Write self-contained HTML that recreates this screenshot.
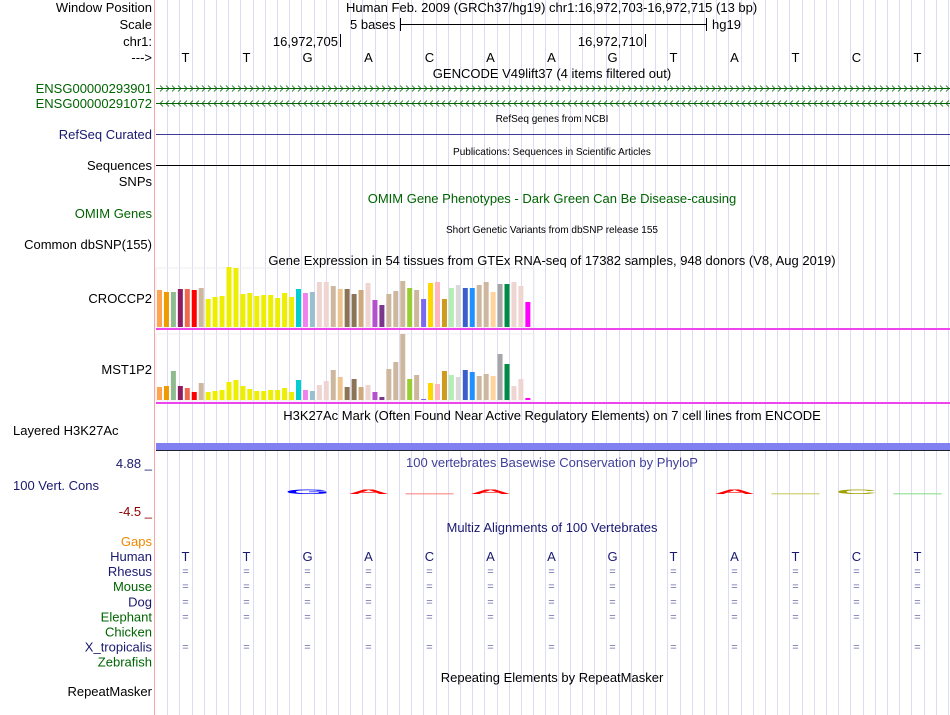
<!DOCTYPE html>
<html><head><meta charset="utf-8">
<style>
body{margin:0;background:#fff;}
svg{display:block;font-family:"Liberation Sans",sans-serif;}
.lb{font-size:13px;text-anchor:end;}
.sm{font-size:10px;text-anchor:middle;}
.md{font-size:13px;text-anchor:middle;}
</style></head><body>
<svg id="s" width="950" height="715" viewBox="0 0 950 715">
<g id="grid"></g>
<line x1="154.5" y1="0" x2="154.5" y2="715" stroke="#f4a6a6" stroke-width="1"/>
<g>
<text x="152" y="12" class="lb">Window Position</text>
<text x="152" y="29" class="lb">Scale</text>
<text x="152" y="46" class="lb">chr1:</text>
<text x="152" y="62" class="lb">---&gt;</text>
<text x="152" y="93" class="lb" fill="#006400">ENSG00000293901</text>
<text x="152" y="108" class="lb" fill="#006400">ENSG00000291072</text>
<text x="152" y="139" class="lb" fill="#191970">RefSeq Curated</text>
<text x="152" y="170" class="lb">Sequences</text>
<text x="152" y="186" class="lb">SNPs</text>
<text x="152" y="218" class="lb" fill="#006400">OMIM Genes</text>
<text x="152" y="249" class="lb">Common dbSNP(155)</text>
<text x="152" y="303" class="lb">CROCCP2</text>
<text x="152" y="374" class="lb">MST1P2</text>
<text x="13" y="435" style="font-size:13px">Layered H3K27Ac</text>
<text x="152" y="468" class="lb" fill="#191970">4.88 _</text>
<text x="13" y="490" style="font-size:13px" fill="#191970">100 Vert. Cons</text>
<text x="152" y="516" class="lb" fill="#8b0000">-4.5 _</text>
<text x="152" y="546" class="lb" fill="#ee8800">Gaps</text>
<g id="species"></g>
<text x="152" y="696" class="lb">RepeatMasker</text>
</g>
<text x="346" y="12" style="font-size:13px">Human Feb. 2009 (GRCh37/hg19)   chr1:16,972,703-16,972,715 (13 bp)</text>
<text x="350" y="29" style="font-size:13px">5 bases</text>
<g stroke="#000"><line x1="400.5" y1="24.5" x2="706.5" y2="24.5"/><line x1="400.5" y1="18" x2="400.5" y2="31"/><line x1="706.5" y1="18" x2="706.5" y2="31"/></g>
<text x="712" y="29" style="font-size:13px">hg19</text>
<text x="338" y="46" style="font-size:13px;text-anchor:end">16,972,705</text>
<line x1="340.5" y1="34" x2="340.5" y2="47" stroke="#000"/>
<text x="643" y="46" style="font-size:13px;text-anchor:end">16,972,710</text>
<line x1="645.5" y1="34" x2="645.5" y2="47" stroke="#000"/>
<g id="bases"></g>
<text x="552" y="78" class="md">GENCODE V49lift37 (4 items filtered out)</text>
<g id="genes"></g>
<text x="552" y="122" class="sm">RefSeq genes from NCBI</text>
<line x1="156" y1="134.5" x2="950" y2="134.5" stroke="#3c3c98"/>
<text x="552" y="155" class="sm">Publications: Sequences in Scientific Articles</text>
<line x1="156" y1="165.5" x2="950" y2="165.5" stroke="#000"/>
<text x="552" y="203" class="md" fill="#006400">OMIM Gene Phenotypes - Dark Green Can Be Disease-causing</text>
<text x="552" y="233" class="sm">Short Genetic Variants from dbSNP release 155</text>
<text x="552" y="265" class="md">Gene Expression in 54 tissues from GTEx RNA-seq of 17382 samples, 948 donors (V8, Aug 2019)</text>
<rect x="156" y="268" width="378" height="60" fill="none" stroke="#eee"/>
<rect x="156" y="334" width="378" height="67" fill="none" stroke="#eee"/>
<g id="bars1"></g>
<g id="bars2"></g>
<rect x="156" y="328" width="794" height="2" fill="#ee44ee"/>
<rect x="156" y="402" width="794" height="2" fill="#ee44ee"/>
<text x="552" y="420" class="md">H3K27Ac Mark (Often Found Near Active Regulatory Elements) on 7 cell lines from ENCODE</text>
<rect x="156" y="443" width="794" height="7" fill="#8080f0"/>
<line x1="156" y1="450.5" x2="950" y2="450.5" stroke="#223"/>
<text x="552" y="467" class="md" fill="#40409a">100 vertebrates Basewise Conservation by PhyloP</text>
<g id="logo"></g>
<text x="552" y="532" class="md" fill="#191970">Multiz Alignments of 100 Vertebrates</text>
<g id="align"></g>
<text x="552" y="682" class="md">Repeating Elements by RepeatMasker</text>
</svg>
<script>
const bases=["T","T","G","A","C","A","A","G","T","A","T","C","T"];
const crocc=[37,35,35,38,38,37,39,28,30,31,60,59,33,34,31,32,32,29,34,30,38,34,35,45,45,41,38,38,33,37,44,27,22,33,36,46,39,37,28,44,45,28,39,42,39,39,42,45,35,43,43,45,41,25];
const mst=[13,14,29,14,12,8,17,8,9,10,18,20,14,11,9,9,10,10,12,8,20,10,9,15,19,30,23,13,21,13,15,8,3,31,38,66,21,25,1,17,16,29,25,23,30,28,24,26,24,46,36,14,21,2];
const tissueColors=["#FFA54F","#EE9A00","#8FBC8F","#8B1C62","#EE6A50","#FF0000","#CDB79E","#EEEE00","#EEEE00","#EEEE00","#EEEE00","#EEEE00","#EEEE00","#EEEE00","#EEEE00","#EEEE00","#EEEE00","#EEEE00","#EEEE00","#EEEE00","#00CED1","#EE82EE","#9AC0CD","#EED5D2","#EED5D2","#CDB79E","#EEC591","#8B7355","#8B7355","#CDAA7D","#EED5D2","#B452CD","#7A378B","#CDB79E","#CDB79E","#CDB79E","#9ACD32","#CDB79E","#7B68EE","#FFD700","#FFB6C1","#CD9B1D","#B4EEB4","#D9D9D9","#3A5FCD","#1E90FF","#CDB79E","#CDB79E","#FFD39B","#A6A6A6","#008B45","#EED5D2","#EED5D2","#FF00FF"];
const species=["Human","Rhesus","Mouse","Dog","Elephant","Chicken","X_tropicalis","Zebrafish"];
const speciesColor=["#191970","#191970","#006400","#191970","#006400","#006400","#191970","#006400"];
const aligned=[true,true,true,true,true,false,true,false];
const NS="http://www.w3.org/2000/svg";
function mk(tag,attrs,parent,txt){const e=document.createElementNS(NS,tag);for(const k in attrs)e.setAttribute(k,attrs[k]);if(txt!=null)e.textContent=txt;parent.appendChild(e);return e;}
const x0=155, bw=61;
const bx=i=>x0+bw*(i+0.5);
const g=document.getElementById('grid');
for(let k=1;k<66;k++){const x=Math.round(x0+k*12.2)+0.5;const l=mk('line',{x1:x,y1:0,x2:x,y2:715,stroke:'#dcdcf4'},g);

}
const bg=document.getElementById('bases');
bases.forEach((b,i)=>{const t=mk('text',{x:bx(i),y:62,'text-anchor':'middle','font-size':13},bg,b);

});
const gg=document.getElementById('genes');
[[88,1],[103,-1]].forEach(([y,d],j)=>{const l=mk('line',{x1:156,y1:y+0.5,x2:950,y2:y+0.5,stroke:'#006400'},gg);


let p='';for(let x=160;x<948;x+=6){p+=d>0?`M${x},${y-2.5}L${x+3},${y+0.5}L${x},${y+3.5}`:`M${x+3},${y-2.5}L${x},${y+0.5}L${x+3},${y+3.5}`;}
const a=mk('path',{d:p,stroke:'#006400',fill:'none','stroke-width':0.8},gg);

});
function bars(id,vals,base,scale){const G=document.getElementById(id);vals.forEach((v,i)=>{const h=v*scale;const r=mk('rect',{x:157+i*6.95,y:base-h,width:5,height:h,fill:tissueColors[i]},G);

});}
bars('bars1',crocc,327,1);
bars('bars2',mst,400,1);
const lg=document.getElementById('logo');
const logo=[[2,'G','#0000ff'],[3,'A','#ff0000'],[4,'_','#ff8080'],[5,'A','#ff0000'],[9,'A','#ff0000'],[10,'_','#c8c860'],[11,'C','#a0a000'],[12,'_','#88dd88']];
logo.forEach(([i,c,col])=>{let e;if(c==='_'){e=mk('rect',{x:bx(i)-24,y:493,width:48,height:1.5,fill:col,opacity:0.7},lg);}else{e=mk('text',{x:0,y:0,'text-anchor':'middle','font-size':18,'font-weight':'bold',fill:col,transform:`translate(${bx(i)},494) scale(3.2,0.35)`},lg,c);}

});
const sp=document.getElementById('species');const al=document.getElementById('align');
species.forEach((s,j)=>{const y=561+j*15.1;const t=mk('text',{x:152,y:y,'text-anchor':'end','font-size':13,fill:speciesColor[j]},sp,s);


if(j===0){bases.forEach((b,i)=>{const e=mk('text',{x:bx(i),y:y,'text-anchor':'middle','font-size':13,fill:'#191970'},al,b);

});}
else if(aligned[j]){bases.forEach((b,i)=>{const e=mk('text',{x:bx(i),y:y-1,'text-anchor':'middle','font-size':11,fill:'#6a6aaa'},al,'=');

});}
});
</script>
</body></html>
